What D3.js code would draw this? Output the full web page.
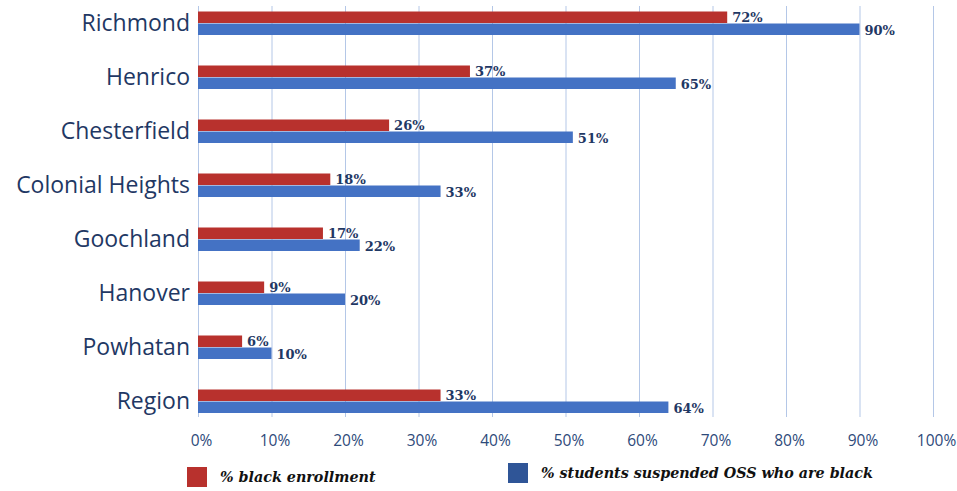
<!DOCTYPE html>
<html><head><meta charset="utf-8">
<script src="https://cdn.jsdelivr.net/npm/d3@7"></script>
<style>body{margin:0;background:#fff;}svg{display:block;}</style>
</head><body>
<script>
const categories = ["Richmond","Henrico","Chesterfield","Colonial Heights","Goochland","Hanover","Powhatan","Region"];
const enrollment = [72,37,26,18,17,9,6,33];
const suspended = [90,65,51,33,22,20,10,64];
const xTicks = [0,10,20,30,40,50,60,70,80,90,100];
const seriesNames = ["% black enrollment","% students suspended OSS who are black"];

const W=957,H=491;
const svg=d3.select("body").append("svg").attr("width",W).attr("height",H);
const x=d3.scaleLinear().domain([0,100]).range([198,933]);
const y=d3.scaleBand().domain(categories).range([-4,428]).padding(0);
const barH=11.5;
const navy="#1f3864", red="#b8312d", blue="#4472c4";

// gridlines
svg.append("g").selectAll("line").data(xTicks).join("line")
  .attr("x1",d=>x(d)+0.5).attr("x2",d=>x(d)+0.5).attr("y1",6).attr("y2",417)
  .attr("stroke","#b4c7e7").attr("stroke-width",1);

// axis
const ax=svg.append("g").attr("transform","translate(0,438)")
  .call(d3.axisBottom(x).tickValues(xTicks).tickFormat(d=>d+"%").tickSize(0));
ax.select(".domain").remove();
ax.selectAll("text").attr("font-family","'Open Sans',sans-serif").attr("font-size",15.5)
  .attr("fill","#2e4a7a").attr("dy","0.35em").attr("dx",3);

// category labels
svg.append("g").selectAll("text").data(categories).join("text")
  .attr("x",190).attr("y",d=>y(d)+y.bandwidth()/2).attr("dy","0.35em")
  .attr("text-anchor","end").attr("font-family","'Open Sans',sans-serif").attr("font-size",23)
  .attr("fill",navy).text(d=>d);

const c=d=>y(d)+y.bandwidth()/2;
// bars
svg.append("g").selectAll("rect").data(categories).join("rect")
  .attr("x",x(0)).attr("y",d=>c(d)-barH).attr("height",barH)
  .attr("width",(d,i)=>x(enrollment[i])-x(0)).attr("fill",red);
svg.append("g").selectAll("rect").data(categories).join("rect")
  .attr("x",x(0)).attr("y",d=>c(d)+0.5).attr("height",barH)
  .attr("width",(d,i)=>x(suspended[i])-x(0)).attr("fill",blue);

const lblFont="'DejaVu Serif',serif";
svg.append("g").selectAll("text").data(categories).join("text")
  .attr("x",(d,i)=>x(enrollment[i])+5).attr("y",d=>c(d)-barH/2).attr("dy","0.38em")
  .attr("font-family",lblFont).attr("font-weight","bold").attr("font-size",13)
  .attr("fill",navy).text((d,i)=>enrollment[i]+"%");
svg.append("g").selectAll("text").data(categories).join("text")
  .attr("x",(d,i)=>x(suspended[i])+5).attr("y",d=>c(d)+0.5+barH/2+1).attr("dy","0.38em")
  .attr("font-family",lblFont).attr("font-weight","bold").attr("font-size",13)
  .attr("fill",navy).text((d,i)=>suspended[i]+"%");

// legend
const leg=[{n:seriesNames[0],c:red,x:187,y:467},{n:seriesNames[1],c:"#2f5597",x:508,y:463}];
const lg=svg.append("g").selectAll("g").data(leg).join("g").attr("transform",d=>`translate(${d.x},${d.y})`);
lg.append("rect").attr("width",20).attr("height",20).attr("fill",d=>d.c);
lg.append("text").attr("x",33).attr("y",10).attr("dy","0.38em")
  .attr("font-family",lblFont).attr("font-style","italic").attr("font-weight","bold").attr("font-size",14.3)
  .attr("fill","#111").text(d=>d.n);
</script>
</body></html>
